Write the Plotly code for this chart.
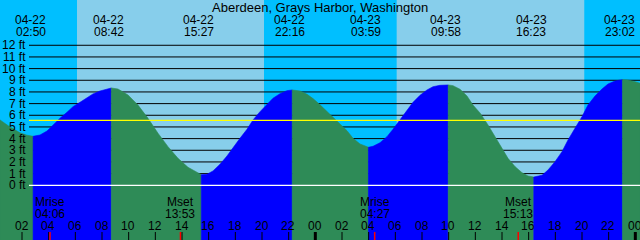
import plotly.graph_objects as go

TITLE = "Aberdeen, Grays Harbor, Washington"

# Tide curve: hours since 04-22 00:00, height in feet
tide_hours = [0.35, 1.1, 1.85, 2.375, 2.833,
              3.35, 3.875, 4.325, 4.85, 5.375, 5.825, 6.35, 6.875, 7.325, 7.85, 8.375, 8.7,
              9.2, 9.95, 10.7, 11.45, 12.2, 12.95, 13.7, 14.45, 15.2, 15.45,
              15.875, 16.325, 16.85, 17.375, 17.825, 18.35, 18.875, 19.325, 19.85, 20.375,
              20.825, 21.35, 21.875, 22.267,
              22.85, 23.375, 23.825, 24.35, 24.875, 25.325, 25.85, 26.375, 26.825, 27.35, 27.983,
              28.325, 28.85, 29.375, 29.825, 30.35, 30.875, 31.325, 31.85, 32.375, 32.825, 33.35, 33.967,
              34.325, 34.85, 35.375, 35.825, 36.35, 36.95, 37.475, 38.0, 38.45, 38.975, 39.5, 39.95, 40.383,
              41.0, 41.45, 41.975, 42.5, 42.95, 43.475, 44.0, 44.45, 44.975, 45.5, 45.95, 46.475, 47.033,
              47.45, 47.975, 48.35]
tide_ft = [5.6, 5.0, 4.5, 4.29, 4.2,
           4.31, 4.65, 5.17, 5.74, 6.26, 6.74, 7.11, 7.48, 7.83, 8.08, 8.28, 8.34,
           8.25, 7.74, 6.87, 5.74, 4.46, 3.31, 2.31, 1.54, 1.03, 0.91,
           0.94, 1.23, 1.8, 2.51, 3.26, 4.03, 4.8, 5.6, 6.31, 6.94,
           7.46, 7.85, 8.11, 8.17,
           8.08, 7.8, 7.43, 6.9, 6.31, 5.8, 5.23, 4.68, 4.03, 3.54, 3.26,
           3.34, 3.65, 4.17, 4.8, 5.6, 6.39, 7.11, 7.71, 8.17, 8.45, 8.57, 8.6,
           8.54, 8.23, 7.65, 6.87, 6.2, 5.17, 4.17, 3.17, 2.31, 1.6, 1.08, 0.8, 0.71,
           0.86, 1.31, 2.02, 2.88, 3.88, 4.89, 5.88, 6.88, 7.65, 8.25, 8.68, 8.94, 9.05,
           9.02, 8.88, 8.74]

# High / low tide events
ext_hours = [2.833, 8.7, 15.45, 22.267, 27.983, 33.967, 40.383, 47.033]
ext_dates = ["04-22", "04-22", "04-22", "04-22", "04-23", "04-23", "04-23", "04-23"]
ext_times = ["02:50", "08:42", "15:27", "22:16", "03:59", "09:58", "16:23", "23:02"]

# Daylight periods (hours)
sunrise_hours = [6.125, 30.1]
sunset_hours = [20.15, 44.17]

# Moon events
moon_hours = [4.1, 13.883, 28.45, 39.217]
moon_names = ["Mrise", "Mset", "Mrise", "Mset"]
moon_times = ["04:06", "13:53", "04:27", "15:13"]

# Hour axis
hour_ticks = [2, 4, 6, 8, 10, 12, 14, 16, 18, 20, 22, 24,
              26, 28, 30, 32, 34, 36, 38, 40, 42, 44, 46, 48]
hour_labels = ["02", "04", "06", "08", "10", "12", "14", "16", "18", "20", "22", "00",
               "02", "04", "06", "08", "10", "12", "14", "16", "18", "20", "22", "00"]
midnight_hours = [24, 48]

# Height axis
ft_ticks = [0, 1, 2, 3, 4, 5, 6, 7, 8, 9, 10, 11, 12]
ft_labels = ["0 ft", "1 ft", "2 ft", "3 ft", "4 ft", "5 ft", "6 ft", "7 ft",
             "8 ft", "9 ft", "10 ft", "11 ft", "12 ft"]
mean_level_ft = 5.57

# ---------------------------------------------------------------------------
W, H = 640, 240
X_RANGE = [0.35, 48.35]
Y_RANGE = [-4.69, 15.88]
FONT = "Liberation Sans, Arial, sans-serif"
NIGHT = "#00BFFF"
DAY = "#87CEEB"
FALL = "#2E8B57"
RISE = "#0000FF"
BASE = Y_RANGE[0] - 1

def px_y(p):
    return 1 - p / H

grid_x0 = X_RANGE[0] + 29 / W * (X_RANGE[1] - X_RANGE[0])

fig = go.Figure()

# grid lines (drawn under the tide fill)
gx, gy = [], []
for v in ft_ticks[1:]:
    gx += [grid_x0, X_RANGE[1], None]
    gy += [v, v, None]
fig.add_trace(go.Scatter(x=gx, y=gy, mode="lines", line=dict(color="black", width=1),
                         hoverinfo="skip"))

# split the tide curve at each high / low
breaks = [0] + [tide_hours.index(h) for h in ext_hours] + [len(tide_hours) - 1]
for a, b in zip(breaks[:-1], breaks[1:]):
    sx = tide_hours[a:b + 1]
    sy = tide_ft[a:b + 1]
    color = RISE if sy[-1] > sy[0] else FALL
    fig.add_trace(go.Scatter(
        x=sx + [sx[-1], sx[0], sx[0]],
        y=sy + [BASE, BASE, sy[0]],
        mode="lines", fill="toself", fillcolor=color,
        line=dict(color=color, width=0.6), hoverinfo="skip"))

# zero line and mean level line
fig.add_trace(go.Scatter(x=[grid_x0, X_RANGE[1]], y=[0, 0], mode="lines",
                         line=dict(color="white", width=1.2), hoverinfo="skip"))
fig.add_trace(go.Scatter(x=[grid_x0, X_RANGE[1]], y=[mean_level_ft, mean_level_ft], mode="lines",
                         line=dict(color="#FFFF00", width=1.2), hoverinfo="skip"))

shapes = []
for r, s in zip(sunrise_hours, sunset_hours):
    shapes.append(dict(type="rect", xref="x", yref="paper", x0=r, x1=s, y0=0, y1=1,
                       fillcolor=DAY, line=dict(width=0), layer="below"))
for h in hour_ticks:
    w = 3 if h in midnight_hours else 1
    shapes.append(dict(type="line", xref="x", yref="paper", x0=h, x1=h,
                       y0=0, y1=8 / H, line=dict(color="black", width=w), layer="above"))
for h in moon_hours:
    shapes.append(dict(type="line", xref="x", yref="paper", x0=h, x1=h,
                       y0=0, y1=8 / H, line=dict(color="red", width=1.5), layer="above"))

ann = []
f = dict(family=FONT, size=12, color="black")
ann.append(dict(text=TITLE, xref="paper", yref="paper", x=0.5, y=px_y(7.5),
                xanchor="center", yanchor="middle", showarrow=False,
                font=dict(family=FONT, size=13, color="black")))
for h, d, t in zip(ext_hours, ext_dates, ext_times):
    ann.append(dict(text=d, xref="x", yref="paper", x=h, y=px_y(20), xshift=-2.5,
                    xanchor="center", yanchor="middle", showarrow=False, font=f))
    ann.append(dict(text=t, xref="x", yref="paper", x=h, y=px_y(32), xshift=-2.5,
                    xanchor="center", yanchor="middle", showarrow=False, font=f))
for v, lab in zip(ft_ticks, ft_labels):
    ann.append(dict(text=lab, xref="paper", yref="y", x=27.5 / W, y=v,
                    xanchor="right", yanchor="middle", showarrow=False, font=f))
for h, lab in zip(hour_ticks, hour_labels):
    ann.append(dict(text=lab, xref="x", yref="paper", x=h, y=px_y(225.5), xshift=-0.5,
                    xanchor="center", yanchor="middle", showarrow=False, font=f))
for h, n, t in zip(moon_hours, moon_names, moon_times):
    ann.append(dict(text=n, xref="x", yref="paper", x=h, y=px_y(201.7),
                    xanchor="center", yanchor="middle", showarrow=False, font=f))
    ann.append(dict(text=t, xref="x", yref="paper", x=h, y=px_y(213.5),
                    xanchor="center", yanchor="middle", showarrow=False, font=f))

fig.update_layout(
    width=W, height=H, margin=dict(l=0, r=0, t=0, b=0),
    paper_bgcolor=NIGHT, plot_bgcolor=NIGHT, showlegend=False,
    xaxis=dict(range=X_RANGE, visible=False, fixedrange=True),
    yaxis=dict(range=Y_RANGE, visible=False, fixedrange=True),
    shapes=shapes, annotations=ann, hovermode=False,
)
fig.write_html("out.html", config={"displayModeBar": False})
